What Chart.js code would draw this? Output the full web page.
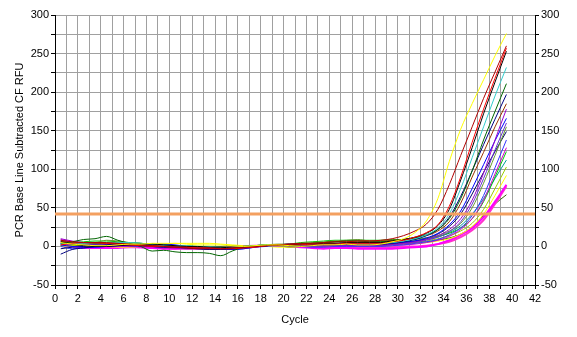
<!DOCTYPE html>
<html>
<head>
<meta charset="utf-8">
<script src="https://cdn.jsdelivr.net/npm/chart.js@4.4.1/dist/chart.umd.min.js"></script>
<style>
  html, body { margin: 0; padding: 0; background: #ffffff; }
  #wrap { width: 577px; height: 337px; }
</style>
</head>
<body>
<div id="wrap"><canvas id="pcr" width="577" height="337"></canvas></div>
<script>
// cycle numbers (drawn half a cycle to the left, as in the instrument plot)
const cycles = [1,2,3,4,5,6,7,8,9,10,11,12,13,14,15,16,17,18,19,20,
                21,22,23,24,25,26,27,28,29,30,31,32,33,34,35,36,37,38,39,40];

const threshold = 42;

// RFU per well
const wellYellow = [5,3,2,1,1,2,3,3,4,4,4,3,2,2,2,1,0,1,2,2,1,0,1,2,2,3,2,2, 3,6,10,18,33,62,110,152,185,216,247,276];
const wellDarkRed = [8,6,5,5,5,4,3,2,1,0,-1,-2,-3,-3,-3,-2,-1,0,1,2,3,4,4,5,6,6,7,7, 8,10,14,20,29,48,80,118,155,192,226,260];
const wellRed = [2,4,5,5,4,3,2,1,0,0,-1,-1,-2,-2,-3,-3,-2,-1,1,2,2,2,3,3,3,4,4,4, 4,6,8,12,18,28,52,90,135,178,218,257];
const wellBlack = [6,3,1,0,0,1,2,3,3,2,1,0,0,-1,-1,-2,-1,0,1,2,2,3,3,4,4,5,5,5, 5,7,9,12,17,27,48,86,128,172,213,253];
const wellCyan = [3,4,4,5,5,5,5,4,3,2,1,1,0,0,-1,-1,0,1,2,2,2,2,3,3,3,4,4,4, 4,5,7,10,15,24,42,75,115,155,195,232];
const wellDarkGreen = [4,6,9,10,13,8,4,0,-6,-5,-7,-8,-8,-9,-12,-6,-1,1,2,2,1,2,4,5,6,7,7,6, 6,7,9,11,15,22,36,62,98,138,175,211];
const wellNavy = [-10,-4,-2,0,2,3,2,1,0,-1,-1,-2,-3,-4,-4,-3,-2,0,1,2,1,0,1,2,2,3,3,3, 3,4,6,9,14,22,38,65,98,132,165,197];
const wellBrown = [7,5,4,4,4,4,3,2,1,0,-1,-1,-1,-1,-1,0,0,1,1,2,3,3,4,5,6,7,7,7, 7,8,9,11,14,20,32,56,90,122,155,185];
const wellPurple = [10,7,5,4,3,3,2,1,0,-1,-2,-3,-3,-3,-2,-2,-1,0,1,2,2,1,1,1,2,2,2,2, 2,3,4,6,9,14,22,36,60,95,138,178];
const wellBlue = [2,0,-1,-1,0,1,2,3,3,3,2,0,-2,-3,-4,-4,-3,-1,1,2,3,3,2,2,2,3,3,3, 3,4,5,7,11,17,28,46,75,106,137,166];
const wellViolet = [8,5,3,3,3,2,2,2,1,0,-1,-1,-2,-2,-2,-2,-1,0,1,2,2,1,0,0,1,1,1,1, 1,2,3,5,8,12,19,32,55,88,125,160];
const wellOlive = [6,5,5,5,8,7,5,4,3,2,1,1,0,0,0,-1,0,1,2,3,3,4,5,6,7,8,9,7, 6,7,8,9,11,14,20,30,50,82,118,155];
const wellNavy2 = [-3,-1,0,2,2,2,1,1,0,0,0,-1,-1,-2,-2,-2,-1,0,1,2,2,2,2,2,2,2,2,2, 2,3,5,7,10,16,26,42,68,96,123,149];
const wellBlue2 = [0,-3,-2,-1,0,1,1,0,0,-1,-1,-2,-3,-4,-4,-4,-3,-1,0,1,1,0,-1,-1,0,0,0,0, 0,1,2,4,6,9,15,24,40,66,102,138];
const wellPurple2 = [9,6,4,2,1,0,0,0,-1,-2,-2,-3,-3,-2,-2,-1,0,0,1,2,2,1,1,1,1,1,1,1, 1,2,2,3,5,8,13,22,36,60,94,128];
const wellGreen = [3,5,6,7,7,6,5,4,3,2,1,0,-1,-1,-2,-2,-1,0,1,2,3,5,6,7,8,8,8,8, 8,9,9,10,11,13,17,24,36,58,90,123];
const wellTeal = [4,3,3,3,4,5,5,4,3,2,1,0,0,-1,-1,-1,0,1,2,2,3,3,4,4,4,5,5,5, 5,5,6,7,9,12,18,27,42,62,88,112];
const wellLime = [1,1,2,2,2,2,1,1,0,-1,-1,-2,-2,-2,-1,-1,0,1,1,1,-1,0,1,1,2,2,2,3, 3,3,4,5,7,10,14,20,30,48,75,103];
const wellYellow2 = [0,1,1,0,0,-1,-1,0,2,3,4,4,4,4,3,2,1,0,0,-1,-1,0,0,1,1,1,1,1, 1,2,3,4,5,7,10,16,26,42,66,92];
const wellMagenta = [4,2,-2,-2,-2,-2,-1,-1,-2,-3,-3,-2,-2,-1,-1,-1,0,0,1,1,0,-1,-2,-3,-2,-2,-3,-3, -3,-3,-2,-1,0,3,8,15,24,38,58,80];
const wellPink = [2,0,-1,-1,-1,0,0,-1,-2,-2,-3,-3,-3,-2,-2,-1,0,1,1,1,0,0,-1,-1,-1,-1,-1,-1, -1,-1,0,0,1,3,6,12,21,34,55,78];
const wellDarkGreen2 = [1,2,3,4,4,4,3,2,1,0,-1,-1,0,0,0,1,1,1,2,2,2,2,2,3,3,3,2,2, 2,3,4,5,6,8,11,16,25,40,55,67];

const wells = [
  [wellYellow, '#ffff00', 1],
  [wellDarkRed, '#b00000', 1],
  [wellRed, '#ff0000', 1],
  [wellBlack, '#000000', 1],
  [wellCyan, '#33cccc', 1],
  [wellDarkGreen, '#006600', 1],
  [wellNavy, '#000080', 1],
  [wellBrown, '#993300', 1],
  [wellPurple, '#9900cc', 1],
  [wellBlue, '#0000ff', 1],
  [wellViolet, '#6633cc', 1],
  [wellOlive, '#669933', 1],
  [wellNavy2, '#000066', 1],
  [wellBlue2, '#3333ff', 1],
  [wellPurple2, '#cc00cc', 1],
  [wellGreen, '#00cc00', 1],
  [wellTeal, '#009999', 1],
  [wellLime, '#99cc00', 1],
  [wellYellow2, '#ffff00', 1],
  [wellMagenta, '#ff00ff', 2],
  [wellPink, '#ff33cc', 2],
  [wellDarkGreen2, '#336600', 1]
];

const font = { family: 'Liberation Sans', size: 11 };

const datasets = [{
  label: 'Threshold',
  data: [{x: 0, y: threshold}, {x: 42, y: threshold}],
  borderColor: '#f4a060',
  borderWidth: 3,
  pointRadius: 0
}];
wells.forEach(([vals, color, w], i) => {
  datasets.push({
    label: 'Well ' + (i + 1),
    data: vals.map((v, k) => ({x: cycles[k] - 0.5, y: v})),
    borderColor: color,
    borderWidth: w,
    pointRadius: 0,
    cubicInterpolationMode: 'monotone'
  });
});

new Chart(document.getElementById('pcr').getContext('2d'), {
  type: 'line',
  data: { datasets },
  options: {
    responsive: false,
    animation: false,
    devicePixelRatio: 1,
    layout: { padding: { top: 15, right: 0, bottom: 0, left: 0 } },
    plugins: { legend: { display: false }, tooltip: { enabled: false } },
    scales: {
      x: {
        type: 'linear',
        min: 0, max: 42,
        afterFit: (s) => { s.height = 52; },
        grid: { color: '#a0a0a0', tickColor: '#000000', tickLength: 4 },
        border: { color: '#000000' },
        ticks: {
          stepSize: 1, autoSkip: false, maxRotation: 0, padding: 3,
          color: '#000000', font,
          callback: (v) => (v % 2 === 0 ? v : '')
        },
        title: { display: true, text: 'Cycle', color: '#000000', font, padding: { top: 0, bottom: 10 } }
      },
      y: {
        position: 'left',
        min: -50, max: 300,
        afterFit: (s) => { s.width = 55; },
        grid: { color: '#a0a0a0', tickColor: '#000000', tickLength: 4 },
        border: { color: '#000000' },
        ticks: {
          stepSize: 25, autoSkip: false, padding: 2,
          color: '#000000', font,
          callback: (v) => (v % 50 === 0 ? v : '')
        },
        title: { display: true, text: 'PCR Base Line Subtracted CF RFU', color: '#000000', font, padding: { top: 13, bottom: 0 } }
      },
      y2: {
        position: 'right',
        min: -50, max: 300,
        afterFit: (s) => { s.width = 42; },
        grid: { drawOnChartArea: false, tickColor: '#000000', tickLength: 4 },
        border: { color: '#000000' },
        ticks: {
          stepSize: 25, autoSkip: false, padding: 2,
          color: '#000000', font,
          callback: (v) => (v % 50 === 0 ? v : '')
        }
      }
    }
  }
});
</script>
</body>
</html>
